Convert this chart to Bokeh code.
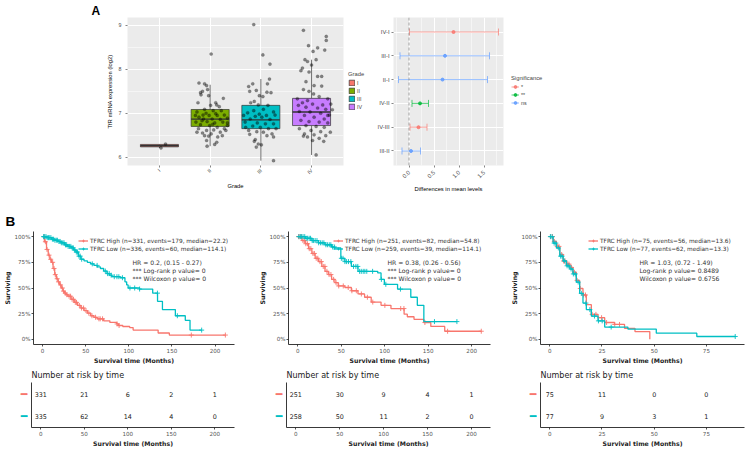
import numpy as np
from math import pi
from bokeh.plotting import figure
from bokeh.models import Range1d, FixedTicker, Label, Legend, LegendItem, Span
from bokeh.layouts import row, column
from bokeh.embed import file_html
from bokeh.resources import INLINE
from bokeh.core.properties import value

# ---------------- data: panel A (box plot) ----------------
grades = ["I", "II", "III", "IV"]
grade_colors = ["#F8766D", "#7CAE00", "#00BFC4", "#C77CFF"]
box_q1 = [6.235, 6.70, 6.65, 6.72]
box_med = [6.26, 6.866, 6.85, 7.03]
box_q3 = [6.29, 7.086, 7.18, 7.34]
box_lo = [6.21, 6.25, 5.92, 6.05]
box_hi = [6.30, 7.65, 7.78, 8.22]

pts_I_val = [6.21, 6.30]
pts_I_jit = [0.03, 0.12]
pts_II_val = [7.69, 7.67, 7.63, 7.47, 7.50, 7.54, 7.42, 7.34, 7.19, 7.18, 7.15, 7.06, 7.03, 7.00, 6.96,
              6.95, 6.95, 6.96, 6.91, 6.87, 6.87, 6.86, 6.89, 6.80, 6.81, 6.78, 6.80, 6.74, 6.72, 6.68,
              6.65, 6.61, 6.62, 6.61, 6.55, 6.53, 6.57, 6.48, 6.46, 6.65, 6.38, 6.29, 6.25, 8.35, 6.95,
              6.99, 7.06, 7.09, 6.72, 6.57, 6.49, 6.49, 6.78, 6.75, 6.83, 7.40, 7.24, 7.24, 6.34]
pts_II_jit = [-0.22, -0.11, -0.07, -0.19, -0.15, -0.05, -0.18, 0.26, 0.13, 0.01, 0.18, 0.06, -0.26, -0.08, -0.14,
              -0.02, 0.14, 0.28, -0.22, -0.13, 0.04, 0.20, 0.34, -0.28, -0.06, 0.09, 0.25, -0.19, -0.01, 0.14,
              -0.23, -0.07, 0.07, 0.31, -0.15, 0.02, 0.20, -0.03, 0.15, 0.28, -0.07, 0.09, -0.06, 0.02, -0.29,
              0.11, 0.22, -0.11, 0.34, -0.26, -0.11, 0.24, 0.34, 0.05, -0.16, -0.03, 0.11, -0.24, 0.13]
pts_III_val = [7.67, 7.61, 7.67, 7.78, 7.50, 7.52, 7.48, 7.47, 7.40, 7.38, 7.27, 7.24, 7.19, 7.18, 7.09,
               7.06, 7.03, 7.01, 6.98, 6.95, 6.93, 6.87, 6.91, 6.86, 6.80, 6.78, 6.76, 6.76, 6.71, 6.68,
               6.65, 6.61, 6.58, 6.57, 6.53, 6.52, 6.49, 6.46, 6.40, 6.30, 6.23, 6.28, 6.36, 6.95, 6.96,
               6.68, 6.65, 9.02, 8.33, 8.12, 5.92]
pts_III_jit = [-0.16, -0.24, 0.13, 0.17, -0.22, -0.09, 0.12, 0.20, -0.03, 0.04, -0.13, -0.20, -0.05, 0.14, 0.05,
               -0.14, 0.25, -0.26, -0.03, 0.11, -0.11, -0.21, 0.02, 0.18, -0.31, -0.07, 0.09, 0.25, -0.16, -0.01,
               0.15, -0.24, -0.08, 0.05, 0.22, -0.22, 0.12, 0.25, -0.11, -0.05, -0.09, 0.01, -0.13, -0.34, 0.28,
               -0.30, 0.30, -0.14, 0.04, 0.18, 0.25]
pts_IV_val = [8.89, 8.75, 8.66, 8.54, 8.49, 8.44, 8.41, 8.22, 8.18, 8.22, 8.03, 8.10, 7.97, 7.94, 7.84,
              7.84, 7.72, 7.63, 7.62, 7.54, 7.50, 7.44, 7.38, 7.33, 7.29, 7.33, 7.24, 7.21, 7.19, 7.21,
              7.14, 7.12, 7.09, 7.04, 7.03, 7.00, 6.96, 6.95, 6.91, 6.87, 6.84, 6.81, 6.80, 6.78, 6.72,
              6.70, 6.68, 6.65, 6.61, 6.58, 6.57, 6.53, 6.51, 6.49, 6.46, 6.43, 6.38, 6.36, 6.48, 6.05,
              6.95, 7.18, 7.08]
pts_IV_jit = [-0.16, 0.29, 0.29, -0.06, 0.12, 0.26, 0.03, -0.13, -0.08, 0.09, -0.18, 0.00, -0.21, -0.05, 0.20,
              0.12, -0.11, 0.05, 0.20, -0.16, -0.05, 0.04, 0.15, -0.28, -0.08, 0.32, -0.18, 0.02, 0.22, 0.38,
              -0.11, 0.12, 0.28, -0.24, -0.03, 0.18, 0.35, -0.14, 0.05, 0.25, -0.21, -0.05, 0.15, 0.32, -0.11,
              0.09, 0.25, -0.24, -0.01, 0.18, 0.37, -0.14, 0.05, 0.28, -0.08, 0.15, 0.02, 0.24, -0.16, 0.09,
              0.32, -0.26, 0.41]

# ---------------- data: panel A (Tukey) ----------------
comparisons = ["IV-I", "III-I", "II-I", "IV-II", "IV-III", "III-II"]
tk_diff = [0.89, 0.72, 0.67, 0.22, 0.19, 0.04]
tk_lwr = [0.01, -0.18, -0.21, 0.06, 0.02, -0.14]
tk_upr = [1.79, 1.61, 1.57, 0.39, 0.36, 0.23]
tk_signif = ["*", "ns", "ns", "**", "*", "ns"]
signif_levels = ["*", "**", "ns"]
signif_colors = ["#F8766D", "#00BA38", "#619CFF"]

# ---------------- data: panel B (Kaplan-Meier) ----------------
km1_hi_t = [0, 2, 4.5, 6.5, 8.3, 10.2, 12.1, 14, 15.9, 17.8, 19.7, 21.6, 23.5, 25.4, 27.3, 29.2, 33, 36.7,
            40.5, 44.3, 48.1, 51.9, 55.7, 59.5, 63.3, 70.8, 78, 86, 88, 93, 101, 105, 134, 147, 212]
km1_hi_s = [1.0, 0.95, 0.875, 0.82, 0.78, 0.75, 0.69, 0.63, 0.59, 0.56, 0.53, 0.50, 0.47, 0.45, 0.435, 0.42,
            0.39, 0.36, 0.33, 0.305, 0.28, 0.255, 0.23, 0.215, 0.20, 0.18, 0.165, 0.15, 0.135, 0.125, 0.115,
            0.09, 0.062, 0.042, 0.042]
km1_lo_t = [0, 5, 10.2, 14, 17.8, 21.6, 25.4, 29.2, 33, 36, 38.6, 41.5, 44.3, 48, 51.9, 55.7, 59.5, 63.3,
            67, 70.8, 74.6, 77.5, 80.3, 89.8, 95.5, 97.5, 99.2, 112.5, 127.7, 133.3, 139, 154, 165.5, 171,
            184.5]
km1_lo_s = [1.0, 0.99, 0.975, 0.965, 0.953, 0.94, 0.92, 0.905, 0.89, 0.87, 0.85, 0.81, 0.78, 0.765, 0.75,
            0.735, 0.72, 0.705, 0.69, 0.665, 0.64, 0.625, 0.61, 0.60, 0.56, 0.53, 0.50, 0.49, 0.45, 0.37,
            0.29, 0.23, 0.185, 0.09, 0.09]
km1_hi_cens = [1.5, 3.2, 5.1, 7.4, 9.3, 11.6, 13.2, 14.7, 16.9, 18.4, 20.8, 22.9, 24.2, 26.3, 28.1, 30.7,
               32.4, 34.2, 35.8, 37.9, 39.3, 42.6, 45.2, 47.5, 50.3, 53.6, 57.2, 61.4, 65.3, 66.8, 69.5,
               86.4, 88.7, 172.5, 212]
km1_lo_cens = [1.2, 2.4, 3.9, 5.3, 6.8, 8.2, 9.6, 11.3, 12.7, 14.2, 15.8, 17.1, 18.9, 20.3, 21.7, 23.4,
               24.8, 26.5, 27.9, 29.6, 31.1, 32.7, 34.3, 35.6, 37.2, 39.1, 40.4, 42.2, 43.6, 45.3, 57.6,
               63.2, 72.7, 75.4, 77.3, 79.5, 83.1, 86.2, 88.4, 92.6, 101.3, 106.8, 112.5, 133.2, 156.3,
               184.5]
km1_legend = ["TFRC High (n=331, events=179, median=22.2)", "TFRC Low (n=336, events=60, median=114.1)"]
km1_stats = ["HR = 0.2, (0.15 - 0.27)", "*** Log-rank p value= 0", "*** Wilcoxon p value= 0"]
km1_risk_t = [0, 50, 100, 150, 200]
km1_risk_hi = [331, 21, 6, 2, 1]
km1_risk_lo = [335, 62, 14, 4, 0]

km2_hi_t = [0, 4.9, 8.7, 12.5, 16.3, 20.1, 23.9, 27.7, 31.4, 35.2, 39, 42.8, 46.6, 54.2, 61.7, 69.3, 76.9,
            84.5, 95.8, 107.2, 122.3, 126, 133.7, 145, 153, 169, 211]
km2_hi_s = [1.0, 0.962, 0.931, 0.883, 0.836, 0.789, 0.757, 0.71, 0.662, 0.631, 0.584, 0.552, 0.52, 0.505,
            0.473, 0.442, 0.41, 0.363, 0.331, 0.30, 0.245, 0.22, 0.195, 0.164, 0.126, 0.079, 0.079]
km2_lo_t = [0, 8.7, 16.3, 23.9, 31.4, 39, 42.8, 49.6, 54.2, 61.7, 69.3, 92, 95.8, 99.6, 114.8, 130, 137.5,
            145, 183]
km2_lo_s = [1.0, 0.984, 0.962, 0.94, 0.921, 0.899, 0.89, 0.789, 0.757, 0.71, 0.662, 0.647, 0.584, 0.536,
            0.489, 0.41, 0.331, 0.173, 0.173]
km2_hi_cens = [1.1, 2.6, 4.2, 6.1, 7.7, 9.4, 11.2, 13.3, 15.1, 17.6, 19.2, 21.3, 23.1, 25.6, 27.2, 29.4,
               31.3, 33.6, 36.1, 38.2, 41.3, 44.1, 47.2, 52.4, 58.1, 62.3, 67.4, 73.2, 80.1, 86.3, 100.2,
               118.4, 122.1, 146.2, 172.3, 211]
km2_lo_cens = [1.4, 3.1, 4.6, 6.2, 8.1, 9.7, 11.4, 13.2, 14.8, 16.7, 18.3, 20.1, 22.2, 24.1, 26.3, 28.2,
               30.1, 32.4, 34.2, 36.3, 38.1, 40.2, 42.4, 50.2, 52.1, 54.3, 56.2, 58.4, 61.1, 64.2, 66.9,
               69.1, 71.2, 73.1, 75.3, 77.2, 79.4, 86.1, 96.2, 101.3, 118.1, 157.2, 183]
km2_legend = ["TFRC High (n=251, events=82, median=54.8)", "TFRC Low (n=259, events=39, median=114.1)"]
km2_stats = ["HR = 0.38, (0.26 - 0.56)", "*** Log-rank p value= 0", "*** Wilcoxon p value= 0"]
km2_risk_t = [0, 50, 100, 150, 200]
km2_risk_hi = [251, 30, 9, 4, 1]
km2_risk_lo = [258, 50, 11, 2, 0]

km3_hi_t = [0, 1.6, 3.2, 4.8, 6.4, 8.0, 9.6, 11.1, 12.7, 14.3, 15.9, 17.5, 19.9, 23.1, 26.3, 31, 35.8,
            40.8, 47.9]
km3_hi_s = [1.0, 0.953, 0.905, 0.826, 0.763, 0.732, 0.70, 0.653, 0.574, 0.495, 0.432, 0.338, 0.243, 0.211,
            0.164, 0.145, 0.107, 0.076, 0.0]
km3_lo_t = [0, 1.6, 3.2, 4.8, 6.4, 8.0, 9.6, 11.1, 12.7, 14.3, 15.9, 17.5, 19.9, 23.1, 26.3, 37.4, 51,
            70.4, 88.8]
km3_lo_s = [1.0, 0.937, 0.89, 0.81, 0.763, 0.716, 0.685, 0.637, 0.558, 0.448, 0.353, 0.29, 0.227, 0.18,
            0.12, 0.10, 0.06, 0.028, 0.028]
km3_hi_cens = [0.4, 1.3, 2.2, 3.6, 4.4, 5.7, 6.6, 7.3, 8.6, 9.2, 10.4, 11.8, 13.1, 14.6, 16.2, 17.1, 20.3,
               22.1, 24.8, 27.2, 31.1, 33.4]
km3_lo_cens = [0.3, 1.1, 2.1, 2.9, 4.1, 5.2, 5.9, 7.1, 8.3, 9.1, 10.2, 11.3, 12.2, 13.6, 15.1, 17.3, 19.2,
               21.4, 23.3, 25.1, 29.4, 88.8]
km3_legend = ["TFRC High (n=75, events=56, median=13.6)", "TFRC Low (n=77, events=62, median=13.3)"]
km3_stats = ["HR = 1.03, (0.72 - 1.49)", "Log-rank p value= 0.8489", "Wilcoxon p value= 0.6756"]
km3_risk_t = [0, 25, 50, 75]
km3_risk_hi = [75, 11, 0, 0]
km3_risk_lo = [77, 9, 3, 1]

# ---------------- layout helpers ----------------
TF = "Liberation Sans"
KF = "DejaVu Sans"
RED = "#F8766D"
CYAN = "#00BFC4"


def panel(x0, x1, fx0, fx1, y0, y1, fy0, fy1, xr, yr, bare=False):
    kw = {}
    if bare:
        kw = dict(x_axis_type=None, y_axis_type=None)
    p = figure(width=x1 - x0, height=y1 - y0, x_range=xr, y_range=yr,
               output_backend="svg", toolbar_location=None,
               min_border_left=fx0 - x0, min_border_right=x1 - fx1,
               min_border_top=fy0 - y0, min_border_bottom=y1 - fy1, **kw)
    if bare:
        p.outline_line_color = None
        p.xgrid.visible = False
        p.ygrid.visible = False
    return p, fx1 - fx0, fy1 - fy0


def style_gg(p, tick_fs, lab_fs):
    p.background_fill_color = "#EBEBEB"
    p.outline_line_color = None
    for ax in list(p.xaxis) + list(p.yaxis):
        ax.axis_line_color = None
        ax.major_tick_line_color = "#333333"
        ax.major_tick_line_width = 0.6
        ax.major_tick_out = 2
        ax.major_tick_in = 0
        ax.minor_tick_line_color = None
        ax.major_label_text_color = "#4D4D4D"
        ax.major_label_text_font = TF
        ax.major_label_text_font_size = tick_fs
        ax.major_label_standoff = 2
        ax.axis_label_text_font = TF
        ax.axis_label_text_font_style = "normal"
        ax.axis_label_text_font_size = lab_fs
        ax.axis_label_text_color = "#000000"
        ax.axis_label_standoff = 3
    for g in (p.xgrid[0], p.ygrid[0]):
        g.grid_line_color = "white"
        g.grid_line_width = 1
        g.minor_grid_line_color = "white"
        g.minor_grid_line_width = 0.5


def style_classic(p):
    p.outline_line_color = None
    p.xgrid.visible = False
    p.ygrid.visible = False
    for ax in list(p.xaxis) + list(p.yaxis):
        ax.axis_line_color = "#222222"
        ax.axis_line_width = 0.9
        ax.major_tick_line_color = "#222222"
        ax.major_tick_line_width = 0.8
        ax.major_tick_out = 2
        ax.major_tick_in = 0
        ax.minor_tick_line_color = None
        ax.major_label_text_color = "#555555"
        ax.major_label_text_font = KF
        ax.major_label_text_font_size = "5.6px"
        ax.major_label_standoff = 1
        ax.axis_label_text_font = KF
        ax.axis_label_text_font_style = "bold"
        ax.axis_label_text_font_size = "6.2px"
        ax.axis_label_text_color = "#222222"
        ax.axis_label_standoff = 1


def small_legend(leg, font, fs_lab, gw):
    leg.label_text_font = font
    leg.label_text_font_size = fs_lab
    leg.glyph_width = gw
    leg.glyph_height = 7
    leg.label_height = 7
    leg.label_standoff = 2
    leg.spacing = 1
    leg.padding = 0
    leg.margin = 0
    leg.background_fill_alpha = 0
    leg.border_line_alpha = 0


def letter_title(p, text, size, offset, standoff):
    p.title.text = text
    p.title.align = "left"
    p.title.offset = offset
    p.title.standoff = standoff
    p.title.text_font = TF
    p.title.text_font_style = "bold"
    p.title.text_font_size = size
    p.title.text_color = "#000000"


TOP_FT, TOP_FB = 17, 165  # frame top / bottom of the upper row

# ---------------- panel A: box plot ----------------
xpos = [1, 2, 3, 4]
pb, fwb, fhb = panel(0, 345, 127, 343, 0, 200, TOP_FT, TOP_FB, Range1d(0.37, 4.63), Range1d(5.81, 9.182))
style_gg(pb, "5.3px", "5.8px")
letter_title(pb, "A", "12px", 91 - 127, 0)
pb.xaxis.ticker = FixedTicker(ticks=xpos)
pb.xaxis.major_label_overrides = {x: g for x, g in zip(xpos, grades)}
pb.xaxis.major_label_orientation = pi / 4
pb.yaxis.ticker = FixedTicker(ticks=[6, 7, 8, 9], minor_ticks=[5.5, 6.5, 7.5, 8.5])
pb.xaxis.axis_label = "Grade"
pb.yaxis.axis_label = "TfR mRNA expression (log2)"

bw = 0.75
pb.segment(x0=xpos, y0=box_q3, x1=xpos, y1=box_hi, line_color="#333333", line_width=0.7)
pb.segment(x0=xpos, y0=box_q1, x1=xpos, y1=box_lo, line_color="#333333", line_width=0.7)
pb.vbar(x=xpos, width=bw, bottom=box_q1, top=box_q3, fill_color=grade_colors,
        line_color="#333333", line_width=0.7)
pb.segment(x0=[x - bw / 2 for x in xpos], y0=box_med, x1=[x + bw / 2 for x in xpos], y1=box_med,
           line_color="#333333", line_width=1.4)

all_vals = [pts_I_val, pts_II_val, pts_III_val, pts_IV_val]
all_jit = [pts_I_jit, pts_II_jit, pts_III_jit, pts_IV_jit]
px, py = [], []
for x, vals, jit in zip(xpos, all_vals, all_jit):
    px += [x + j for j in jit]
    py += vals
pb.scatter(x=px, y=py, size=3.2, fill_color="black", fill_alpha=0.45, line_color="black", line_alpha=0.45,
           line_width=0.3)

# legend strip for the box plot (keys drawn from the same box data, outside the visible range)
plb, _, _ = panel(345, 368, 345, 368, 0, 200, TOP_FT, TOP_FB, Range1d(-10, -9), Range1d(-10, -9), bare=True)
key_b = plb.vbar(x=xpos, width=bw, bottom=box_q1, top=box_q3, fill_color=grade_colors,
                 line_color="#333333", line_width=0.7)
leg_b = Legend(items=[LegendItem(label=g, renderers=[key_b], index=i) for i, g in enumerate(grades)],
               title="Grade", location=(3, TOP_FB - 110))
small_legend(leg_b, TF, "5.3px", 7)
leg_b.title_text_font = TF
leg_b.title_text_font_size = "5.8px"
leg_b.title_text_font_style = "normal"
leg_b.title_standoff = 2
plb.add_layout(leg_b)

# ---------------- panel A: Tukey intervals ----------------
tk_y = [len(comparisons) - i for i in range(len(comparisons))]
pt, fwt, fht = panel(368, 505, 393, 503, 0, 200, TOP_FT, TOP_FB, Range1d(-0.31, 1.89), Range1d(0.39, 6.61))
style_gg(pt, "5.8px", "5.8px")
pt.xaxis.ticker = FixedTicker(ticks=[0, 0.5, 1.0, 1.5], minor_ticks=[-0.25, 0.25, 0.75, 1.25, 1.75])
pt.xaxis.major_label_overrides = {0: "0.0", 0.5: "0.5", 1: "1.0", 1.5: "1.5"}
pt.xaxis.major_label_orientation = pi / 4
pt.yaxis.ticker = FixedTicker(ticks=tk_y)
pt.yaxis.major_label_overrides = {y: c for y, c in zip(tk_y, comparisons)}
pt.xaxis.axis_label = "Differences in mean levels"
pt.add_layout(Span(location=0, dimension="height", line_color="#8A8A8A", line_dash="3 2", line_width=0.8))

plt_, _, _ = panel(505, 745, 505, 745, 0, 200, TOP_FT, TOP_FB, Range1d(-10, -9), Range1d(-10, -9), bare=True)
tk_items = []
for lev, col in zip(signif_levels, signif_colors):
    idx = [i for i, s in enumerate(tk_signif) if s == lev]
    ys = [tk_y[i] for i in idx]
    lo = [tk_lwr[i] for i in idx]
    hi = [tk_upr[i] for i in idx]
    dd = [tk_diff[i] for i in idx]
    for fig in (pt, plt_):
        sr = fig.segment(x0=lo, y0=ys, x1=hi, y1=ys, line_color=col, line_width=0.8, line_alpha=0.85)
        fig.scatter(x=lo + hi, y=ys + ys, marker="dash", angle=pi / 2, size=7, line_color=col,
                    line_width=0.8, line_alpha=0.85)
        pr = fig.scatter(x=dd, y=ys, size=3, fill_color=col, line_color=col, alpha=0.85)
    tk_items.append(LegendItem(label=lev, renderers=[sr, pr]))
leg_t = Legend(items=tk_items, title="Significance", location=(6, TOP_FB - 106))
small_legend(leg_t, TF, "5.3px", 8)
leg_t.title_text_font = TF
leg_t.title_text_font_size = "5.8px"
leg_t.title_text_font_style = "normal"
leg_t.title_standoff = 2
plt_.add_layout(leg_t)


# ---------------- panel B: Kaplan-Meier + risk tables ----------------
def surv_at(tt, ss, cens):
    idx = np.searchsorted(np.array(tt), np.array(cens), side="right") - 1
    return list(np.array(ss)[idx])


def km_column(x0, x1, fx0, fx1, xr, xticks, hi_t, hi_s, lo_t, lo_s, hi_c, lo_c, legend, stats,
              rt, rhi, rlo, leg_dx, letter=None):
    p, fw, fh = panel(x0, x1, fx0, fx1, 200, 366, 231, 347, Range1d(*xr), Range1d(-0.05, 1.05))
    style_classic(p)
    if letter:
        letter_title(p, letter, "13.5px", (x0 + 3) - fx0, 5)
    p.xaxis.ticker = FixedTicker(ticks=xticks)
    p.yaxis.ticker = FixedTicker(ticks=[0, 0.25, 0.5, 0.75, 1.0])
    p.yaxis.major_label_overrides = {0: "0%", 0.25: "25%", 0.5: "50%", 0.75: "75%", 1: "100%"}
    p.xaxis.axis_label = "Survival time (Months)"
    p.yaxis.axis_label = "Surviving"
    items = []
    for tt, ss, cc, col, lab in ((hi_t, hi_s, hi_c, RED, legend[0]), (lo_t, lo_s, lo_c, CYAN, legend[1])):
        lr = p.step(x=tt, y=ss, mode="after", line_color=col, line_width=1.3)
        cr = p.scatter(x=cc, y=surv_at(tt, ss, cc), marker="cross", size=5, line_color=col, line_width=0.9)
        items.append(LegendItem(label=lab, renderers=[lr, cr]))
    leg = Legend(items=items, location=(leg_dx, fh - 24))
    small_legend(leg, KF, "5.8px", 10)
    leg.label_text_color = "#333333"
    p.add_layout(leg)
    for txt, off in zip(stats, (34, 42.2, 50.4)):
        p.add_layout(Label(x=99, y=fh - off, x_units="screen", y_units="screen", text=txt,
                           text_font=KF, text_font_size="6.1px", text_color="#333333",
                           text_baseline="middle", text_align="left"))

    # risk table: a narrow strip with the coloured strata keys, then the table itself
    dx1 = fx0 - 3
    pd, _, _ = panel(x0, dx1, x0, dx1, 366, 449, 380, 429, Range1d(x0, dx1), Range1d(0.485, 2.535), bare=True)
    for yy, col in ((2, RED), (1, CYAN)):
        pd.add_layout(Label(x=fx0 - 7.5, y=yy, text="\u2501", text_font=KF, text_font_size="11px",
                            text_color=col, text_align="center", text_baseline="middle"))
    t, tw, th = panel(dx1, x1, fx0, fx1, 366, 449, 380, 429, Range1d(*xr), Range1d(0.485, 2.535))
    style_classic(t)
    t.xaxis.ticker = FixedTicker(ticks=xticks)
    t.yaxis.ticker = FixedTicker(ticks=[])
    t.yaxis.major_tick_out = 0
    t.yaxis.major_label_standoff = 0
    t.xaxis.axis_label = "Survival time (Months)"
    t.title.text = "Number at risk by time"
    t.title.align = "left"
    t.title.text_font = KF
    t.title.text_font_size = "8px"
    t.title.text_font_style = "normal"
    t.title.text_color = "#222222"
    t.title.standoff = 5
    t.title.offset = 0
    for yy, counts in ((2, rhi), (1, rlo)):
        t.text(x=rt, y=[yy] * len(rt), text=[str(c) for c in counts], text_font=value(KF),
               text_font_size="6.4px", text_color="#222222", text_align="center", text_baseline="middle")
    return column(p, row(pd, t))


c1 = km_column(0, 255, 31, 234, (-10.6, 222.6), [0, 50, 100, 150, 200], km1_hi_t, km1_hi_s, km1_lo_t,
               km1_lo_s, km1_hi_cens, km1_lo_cens, km1_legend, km1_stats, km1_risk_t, km1_risk_hi,
               km1_risk_lo, 45, letter="B")
c2 = km_column(255, 505, 286, 490, (-10.55, 221.6), [0, 50, 100, 150, 200], km2_hi_t, km2_hi_s, km2_lo_t,
               km2_lo_s, km2_hi_cens, km2_lo_cens, km2_legend, km2_stats, km2_risk_t, km2_risk_hi,
               km2_risk_lo, 45)
c3 = km_column(505, 745, 540, 744, (-4.44, 93.24), [0, 25, 50, 75], km3_hi_t, km3_hi_s, km3_lo_t,
               km3_lo_s, km3_hi_cens, km3_lo_cens, km3_legend, km3_stats, km3_risk_t, km3_risk_hi,
               km3_risk_lo, 48)

layout = column(row(pb, plb, pt, plt_), row(c1, c2, c3))
open("out.html", "w").write(file_html(layout, INLINE))
